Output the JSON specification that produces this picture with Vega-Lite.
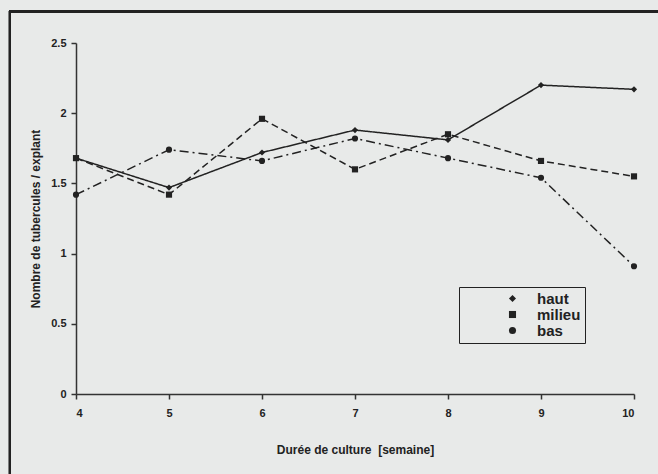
{
  "$schema": "https://vega.github.io/schema/vega-lite/v6.json",
  "width": 558,
  "height": 351,
  "autosize": {"type": "none"},
  "padding": {"left": 76, "top": 43, "right": 24, "bottom": 80},
  "background": "#e8eae9",
  "config": {
    "view": {"stroke": null},
    "font": "Liberation Sans",
    "axis": {
      "labelFont": "Liberation Sans", "labelFontWeight": "bold", "labelFontSize": 11, "labelColor": "#222",
      "titleFont": "Liberation Sans", "titleFontWeight": "bold", "titleFontSize": 12, "titleColor": "#222",
      "domainColor": "#333", "domainWidth": 1.5, "tickColor": "#333", "tickWidth": 1.5, "tickSize": 5, "grid": false
    }
  },
  "datasets": {
    "main": [
      {"semaine": 4, "serie": "haut", "valeur": 1.68},
      {"semaine": 5, "serie": "haut", "valeur": 1.47},
      {"semaine": 6, "serie": "haut", "valeur": 1.72},
      {"semaine": 7, "serie": "haut", "valeur": 1.88},
      {"semaine": 8, "serie": "haut", "valeur": 1.81},
      {"semaine": 9, "serie": "haut", "valeur": 2.20},
      {"semaine": 10, "serie": "haut", "valeur": 2.17},
      {"semaine": 4, "serie": "milieu", "valeur": 1.68},
      {"semaine": 5, "serie": "milieu", "valeur": 1.42},
      {"semaine": 6, "serie": "milieu", "valeur": 1.96},
      {"semaine": 7, "serie": "milieu", "valeur": 1.60},
      {"semaine": 8, "serie": "milieu", "valeur": 1.85},
      {"semaine": 9, "serie": "milieu", "valeur": 1.66},
      {"semaine": 10, "serie": "milieu", "valeur": 1.55},
      {"semaine": 4, "serie": "bas", "valeur": 1.42},
      {"semaine": 5, "serie": "bas", "valeur": 1.74},
      {"semaine": 6, "serie": "bas", "valeur": 1.66},
      {"semaine": 7, "serie": "bas", "valeur": 1.82},
      {"semaine": 8, "serie": "bas", "valeur": 1.68},
      {"semaine": 9, "serie": "bas", "valeur": 1.54},
      {"semaine": 10, "serie": "bas", "valeur": 0.91}
    ]
  },
  "data": {"name": "main"},
  "layer": [
    {
      "mark": {"type": "line", "color": "#222", "strokeWidth": 1.5},
      "encoding": {
        "x": {"field": "semaine", "type": "quantitative", "scale": {"domain": [4, 10], "nice": false, "zero": false},
              "axis": {"values": [4, 5, 6, 7, 8, 9, 10], "format": "d", "title": "Durée de culture \u00a0[semaine]", "labelPadding": 8, "titlePadding": 26}},
        "y": {"field": "valeur", "type": "quantitative", "scale": {"domain": [0, 2.5], "nice": false},
              "axis": {"values": [0, 0.5, 1, 1.5, 2, 2.5], "format": ".1~f", "title": "Nombre de tubercules / explant", "labelPadding": 5, "titlePadding": 8}},
        "detail": {"field": "serie"},
        "strokeDash": {"field": "serie", "type": "nominal",
                       "scale": {"domain": ["haut", "milieu", "bas"], "range": [[1, 0], [7, 4], [9, 4, 2, 4]]},
                       "legend": null}
      }
    },
    {
      "mark": {"type": "point", "filled": true, "color": "#222", "opacity": 1, "size": 38},
      "encoding": {
        "x": {"field": "semaine", "type": "quantitative", "scale": {"domain": [4, 10], "nice": false, "zero": false}},
        "y": {"field": "valeur", "type": "quantitative", "scale": {"domain": [0, 2.5], "nice": false}},
        "shape": {"field": "serie", "type": "nominal",
                  "scale": {"domain": ["haut", "milieu", "bas"], "range": ["diamond", "square", "circle"]},
                  "legend": {"title": null, "orient": "none", "legendX": 383, "legendY": 244,
                             "strokeColor": "#222", "padding": 4,
                             "symbolSize": 50, "symbolStrokeWidth": 1.5, "symbolStrokeColor": "#222", "symbolFillColor": "#222",
                             "labelFont": "Liberation Sans", "labelFontWeight": "bold", "labelFontSize": 15, "labelColor": "#222",
                             "rowPadding": 0, "symbolOffset": 42, "labelOffset": 17}}
      }
    },
    {
      "mark": {"type": "rect", "fill": null, "stroke": "#222", "strokeWidth": 2},
      "encoding": {
        "x": {"datum": 3.29, "type": "quantitative", "scale": {"domain": [4, 10], "nice": false, "zero": false}, "title": "Durée de culture \u00a0[semaine]"},
        "x2": {"datum": 10.6},
        "y": {"datum": -0.9, "type": "quantitative", "scale": {"domain": [0, 2.5], "nice": false}, "title": "Nombre de tubercules / explant"},
        "y2": {"datum": 2.725}
      }
    }
  ],
  "resolve": {"scale": {"shape": "independent"}, "legend": {"shape": "independent"}}
}
